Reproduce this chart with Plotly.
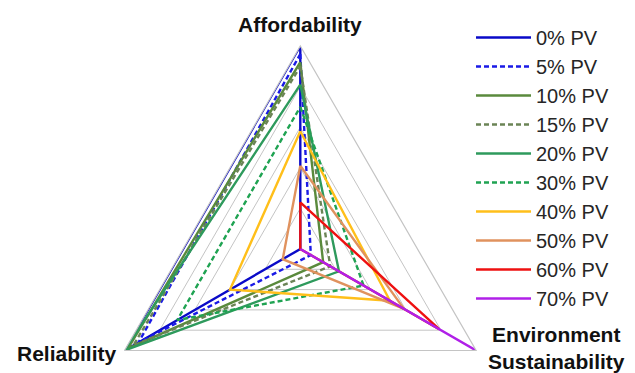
import plotly.graph_objects as go

# ---- data ----
categories = ["Affordability", "Environment Sustainability", "Reliability"]
series_names = ["0% PV", "5% PV", "10% PV", "15% PV", "20% PV",
                "30% PV", "40% PV", "50% PV", "60% PV", "70% PV"]
affordability = [1.00, 0.96, 0.92, 0.90, 0.81, 0.70, 0.58, 0.41, 0.23, 0.00]
environment   = [0.00, 0.06, 0.13, 0.17, 0.22, 0.36, 0.51, 0.59, 0.79, 1.00]
reliability   = [1.00, 0.92, 0.98, 0.95, 1.00, 0.70, 0.40, 0.10, 0.00, 0.00]

# ---- styles ----
colors = ["#0a0ac8", "#1a1ae6", "#5a8a3c", "#6b8456", "#2e9a5c",
          "#1fa352", "#ffbf1a", "#e0925e", "#ee1111", "#b020e8"]
dashes = ["solid", "5px,3px", "solid", "5px,3px", "solid",
          "5px,3px", "solid", "solid", "solid", "solid"]

W, H = 635, 460
cx, cy, R = 300.3, 249.0, 203.0

def px(x):
    return x / W

def py(y):
    return 1 - y / H

fig = go.Figure()
for i, name in enumerate(series_names):
    r = [affordability[i], environment[i], reliability[i], affordability[i]]
    th = categories + [categories[0]]
    fig.add_trace(go.Scatterpolar(
        r=r, theta=th, mode="lines", name=name,
        line=dict(color=colors[i], width=2.4, dash=dashes[i]),
    ))

fig.update_layout(
    width=W, height=H,
    margin=dict(l=0, r=0, t=0, b=0),
    paper_bgcolor="white",
    font=dict(family="Liberation Sans, Arial, sans-serif", color="#262626"),
    polar=dict(
        domain=dict(x=[px(cx - R), px(cx + R)], y=[py(cy + R), py(cy - R)]),
        gridshape="linear",
        bgcolor="white",
        radialaxis=dict(range=[0, 1], dtick=0.2, showticklabels=False,
                        ticks="", showline=False, gridcolor="#c4c4c4",
                        gridwidth=1.2),
        angularaxis=dict(rotation=90, direction="clockwise",
                         showticklabels=False, ticks="", showgrid=False,
                         showline=True, linecolor="#c4c4c4", linewidth=1.2),
    ),
    legend=dict(x=px(471), y=py(18), xanchor="left", yanchor="top",
                font=dict(size=20, color="#262626"),
                itemwidth=55, bgcolor="rgba(0,0,0,0)"),
    showlegend=True,
)

label_font = dict(family="Liberation Sans, Arial, sans-serif", size=21, color="#111111")
fig.add_annotation(text="<b>Affordability</b>", x=px(300), y=py(24),
                   xref="paper", yref="paper", showarrow=False,
                   xanchor="center", yanchor="middle", font=label_font)
fig.add_annotation(text="<b>Reliability</b>", x=px(67), y=py(353),
                   xref="paper", yref="paper", showarrow=False,
                   xanchor="center", yanchor="middle", font=label_font)
fig.add_annotation(text="<b>Environment</b><br><b>Sustainability</b>",
                   x=px(556), y=py(348), xref="paper", yref="paper",
                   showarrow=False, xanchor="center", yanchor="middle",
                   font=label_font)

fig.write_html("out.html")
